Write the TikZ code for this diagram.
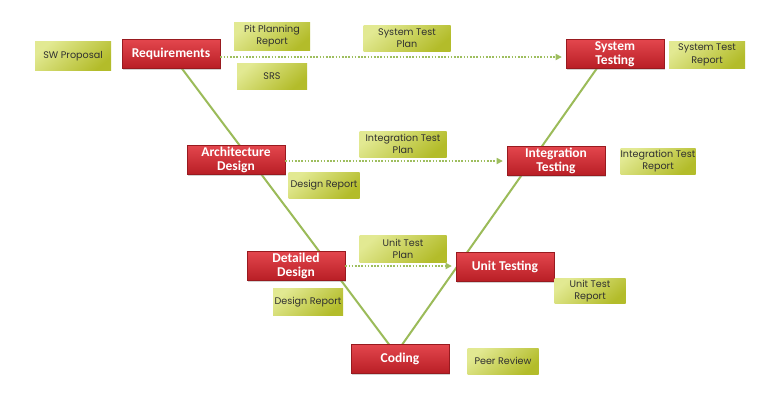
\documentclass[tikz,border=0pt]{standalone}
\usepackage{fontspec}
\newfontfamily\boxfont{Carlito}
\newfontfamily\notefont{Poppins}
\usetikzlibrary{shadows,backgrounds,arrows.meta,calc}
\definecolor{redtop}{HTML}{E3464D}
\definecolor{redbot}{HTML}{B81E25}
\definecolor{redborder}{HTML}{981A1F}
\definecolor{notelight}{HTML}{E2E992}
\definecolor{notedark}{HTML}{B3BC2A}
\definecolor{vline}{HTML}{9BBB59}
\definecolor{dotline}{HTML}{9EBE5E}
\definecolor{notetext}{HTML}{303030}
\tikzset{
  phase/.style={draw=redborder, line width=0.6pt, top color=redtop, bottom color=redbot,
    minimum width=98pt, minimum height=29pt, inner sep=1pt, text=white,
    font=\boxfont\bfseries\fontsize{13.5}{14}\selectfont, align=center,
    drop shadow={shadow xshift=1.2pt, shadow yshift=-1.5pt, opacity=0.35}},
  note/.style={top color=notelight, bottom color=notedark, shading angle=40,
    minimum height=26pt, inner xsep=0pt, inner ysep=1pt, text=notetext,
    font=\notefont\fontsize{9.6}{12.3}\selectfont, align=center},
  vleg/.style={draw=vline, line width=2pt},
  plan/.style={draw=dotline, line width=1.9pt, dash pattern=on 1.6pt off 1.6pt,
    shorten >=4pt, -{Triangle[length=6pt,width=6.5pt,fill=dotline,line width=0pt]}}
}
\begin{document}
\begin{tikzpicture}[x=1pt,y=-1pt]
\useasboundingbox (0,0) rectangle (773,397);
% phases
\node[phase] (req)  at (171,54)  {Requirements};
\node[phase] (arch) at (236,160) {Architecture\\Design};
\node[phase] (dd)   at (296,266) {Detailed\\Design};
\node[phase] (cod)  at (400,359) {Coding};
\node[phase] (ut)   at (505,267) {Unit Testing};
\node[phase] (it)   at (556,161) {Integration\\Testing};
\node[phase] (st)   at (615,54)  {System\\Testing};
% notes
\node[note, minimum width=76pt, minimum height=29pt] (swp) at (73,56)  {SW Proposal};
\node[note, minimum width=76pt, minimum height=28pt] (pit) at (272,36) {Pit Planning\\Report};
\node[note, minimum width=70pt] (srs) at (272,76)  {SRS};
\node[note, minimum width=71pt] (dr1) at (324,185) {Design Report};
\node[note, minimum width=87pt] (stp) at (407,38)  {System Test\\Plan};
\node[note, minimum width=76pt, minimum height=27pt] (str) at (707,55) {System Test\\Report};
\node[note, minimum width=87pt] (itp) at (403,144) {Integration Test\\Plan};
\node[note, minimum width=75pt] (itr) at (658,161) {Integration Test\\Report};
\node[note, minimum width=87pt, minimum height=27pt] (utp) at (403,249) {Unit Test\\Plan};
\node[note, minimum width=70pt, minimum height=27pt] (dr2) at (308,302) {Design Report};
\node[note, minimum width=71pt, minimum height=25pt] (utr) at (590,291) {Unit Test\\Report};
\node[note, minimum width=71pt] (pr)  at (503,361) {Peer Review};
% white page and V legs behind the boxes
\begin{pgfonlayer}{background}
\fill[white] (0,0) rectangle (773,397);
\draw[vleg] (req.center) -- (cod.center);
\draw[vleg] ([xshift=-8pt]cod.center) -- ([xshift=-8pt]st.center);
\end{pgfonlayer}
% test planning arrows
\draw[plan] ([yshift=-3pt]req.east) -- ([yshift=-3pt]st.west);
\draw[plan] ([yshift=-1pt]arch.east) -- ([yshift=-1pt]arch.east -| it.west);
\draw[plan] (dd.east) -- (dd.east -| ut.west);
\end{tikzpicture}
\end{document}
